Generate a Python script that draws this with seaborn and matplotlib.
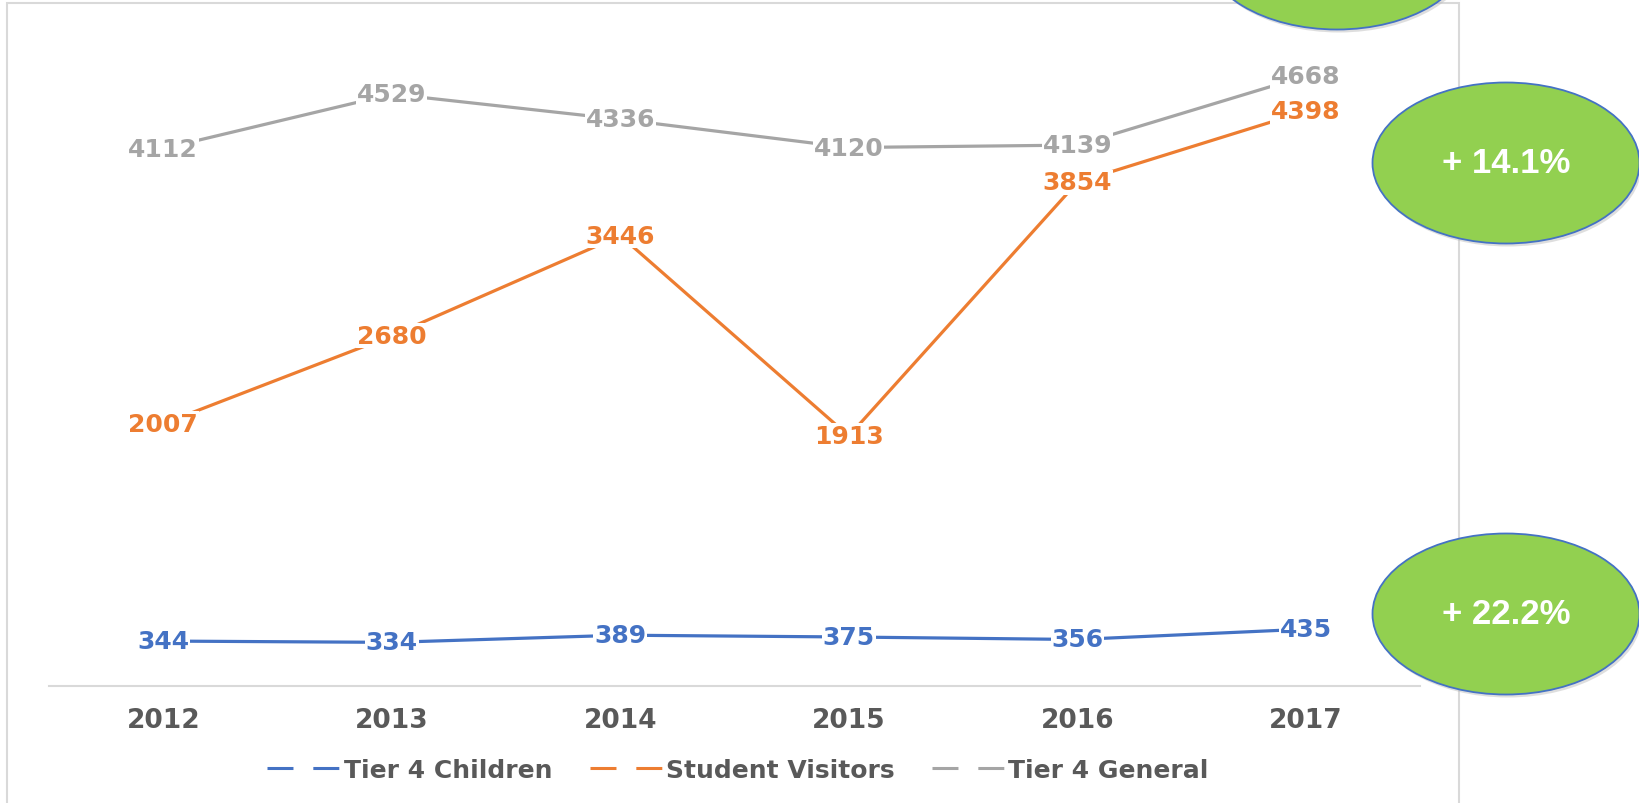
import matplotlib
matplotlib.use("Agg")
import matplotlib.pyplot as plt
from matplotlib.patches import Ellipse, Rectangle
from matplotlib.lines import Line2D
import pandas as pd
import seaborn as sns

# Data
years = ["2012", "2013", "2014", "2015", "2016", "2017"]
tier4_children = [344, 334, 389, 375, 356, 435]
student_visitors = [2007, 2680, 3446, 1913, 3854, 4398]
tier4_general = [4112, 4529, 4336, 4120, 4139, 4668]
series_names = ["Tier 4 Children", "Student Visitors", "Tier 4 General"]
growth_labels = ["+ 14.1%", "+ 22.2%"]

COLORS = {
    "Tier 4 Children": "#4472C4",
    "Student Visitors": "#ED7D31",
    "Tier 4 General": "#A5A5A5",
}
TEXT_GREY = "#595959"

sns.set_theme(style="white")
plt.rcParams["font.family"] = ["DejaVu Sans"]

df = pd.concat([
    pd.DataFrame({"year": years, "value": vals, "series": name})
    for name, vals in zip(series_names, [tier4_children, student_visitors, tier4_general])
])

fig = plt.figure(figsize=(16.4, 8.04), dpi=100)
ax = fig.add_axes([0.0299, 0.1455, 0.836, 0.8128])

sns.lineplot(data=df, x="year", y="value", hue="series", palette=COLORS,
             linewidth=2.3, legend=False, ax=ax, sort=False)

# data labels centred on the points, white box hides the line underneath
for name, vals in zip(series_names, [tier4_children, student_visitors, tier4_general]):
    for i, v in enumerate(vals):
        ax.text(i, v, f"{v}", ha="center", va="center", fontsize=18,
                fontweight="bold", color=COLORS[name], zorder=5,
                bbox=dict(facecolor="white", edgecolor="none", pad=0.5))

ax.set_xlim(-0.5, 5.5)
ax.set_ylim(0, 5000)
ax.set_yticks([])
ax.set_xlabel("")
ax.set_ylabel("")
ax.set_xticks(range(len(years)))
ax.set_xticklabels(years, fontsize=19, fontweight="bold", color=TEXT_GREY)
ax.tick_params(axis="x", length=0, pad=15)
for side in ["top", "left", "right"]:
    ax.spines[side].set_visible(False)
ax.spines["bottom"].set_color("#D9D9D9")
ax.spines["bottom"].set_linewidth(1.5)
ax.grid(False)

# legend with Excel-like dashed handles
handles = [Line2D([0], [0], color=COLORS[n], lw=2.2, linestyle=(0, (8.5, 6.5)))
           for n in series_names]
leg = fig.legend(handles, series_names, loc="center", bbox_to_anchor=(0.45, 0.041),
                 ncol=3, frameon=False, fontsize=18, handlelength=2.9,
                 handletextpad=0.15, columnspacing=1.5)
for t in leg.get_texts():
    t.set_color(TEXT_GREY)
    t.set_fontweight("bold")

# chart frame
fig.add_artist(Rectangle((0.07, -0.1), 14.52, 8.10, transform=fig.dpi_scale_trans,
                         facecolor="none", edgecolor="#D9D9D9", lw=1.5, zorder=1))

# green growth bubbles (inches from bottom-left)
bubbles = [((13.37, 8.54), None), ((15.06, 6.40), growth_labels[0]),
           ((15.06, 1.89), growth_labels[1])]
for (cx, cy), label in bubbles:
    fig.add_artist(Ellipse((cx + 0.02, cy - 0.03), 2.67, 1.61, transform=fig.dpi_scale_trans,
                           facecolor="#BFBFBF", edgecolor="none", alpha=0.5, zorder=3))
    fig.add_artist(Ellipse((cx, cy), 2.67, 1.61, transform=fig.dpi_scale_trans,
                           facecolor="#92D050", edgecolor="#4472C4", lw=1.3, zorder=4))
    if label:
        fig.text(cx / 16.4, cy / 8.04, label, ha="center", va="center",
                 fontsize=25, fontweight="bold", color="white",
                 family=["Liberation Sans", "DejaVu Sans"], zorder=6)

fig.savefig("out.png", dpi=100)
